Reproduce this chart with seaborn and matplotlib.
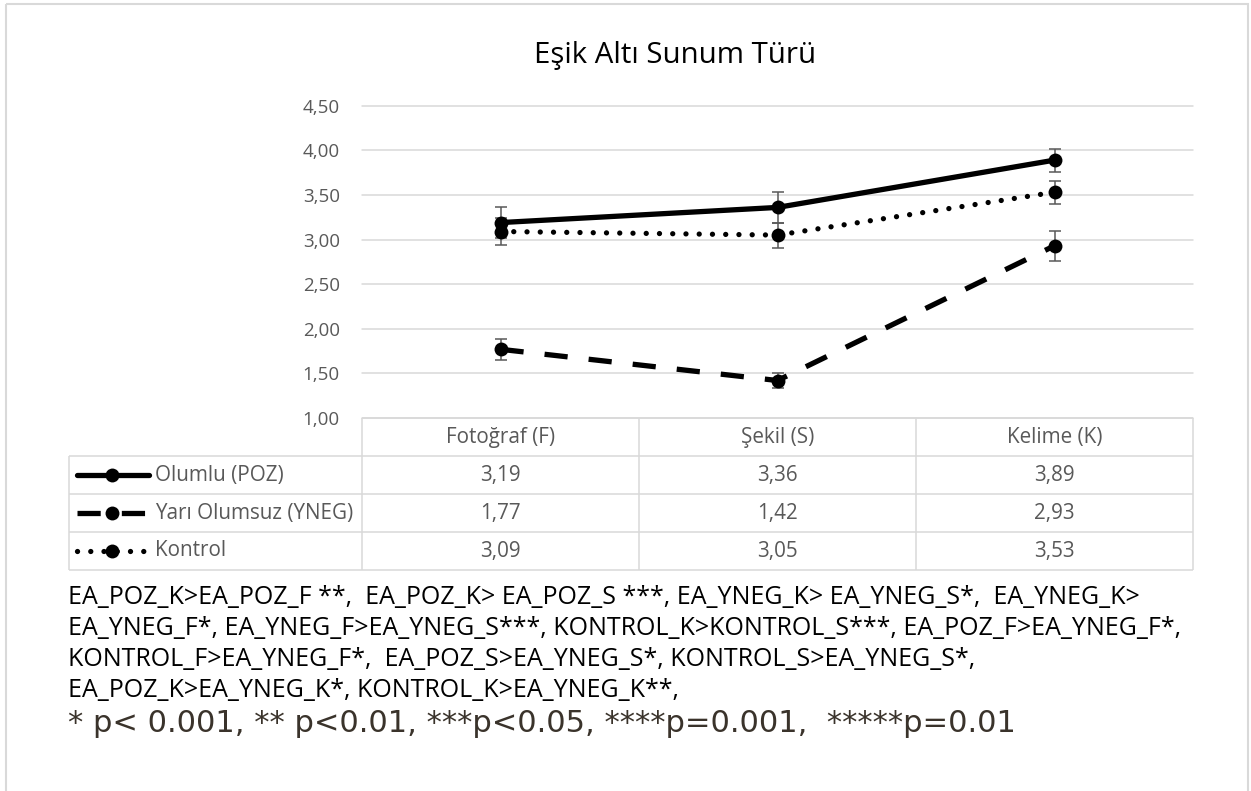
import matplotlib
matplotlib.use("Agg")
import matplotlib.pyplot as plt
from matplotlib.patches import Rectangle
import seaborn as sns
import pandas as pd

# ---- data ----
title = "Eşik Altı Sunum Türü"
categories = ["Fotoğraf (F)", "Şekil (S)", "Kelime (K)"]
series_names = ["Olumlu (POZ)", "Yarı Olumsuz (YNEG)", "Kontrol"]
poz = [3.19, 3.36, 3.89]
yneg = [1.77, 1.42, 2.93]
kontrol = [3.09, 3.05, 3.53]
poz_err = [0.17, 0.17, 0.13]
yneg_err = [0.12, 0.08, 0.17]
kontrol_err = [0.15, 0.14, 0.13]
y_ticks = [1.0, 1.5, 2.0, 2.5, 3.0, 3.5, 4.0, 4.5]
notes = [
    "EA_POZ_K>EA_POZ_F **,  EA_POZ_K> EA_POZ_S ***, EA_YNEG_K> EA_YNEG_S*,  EA_YNEG_K>",
    "EA_YNEG_F*, EA_YNEG_F>EA_YNEG_S***, KONTROL_K>KONTROL_S***, EA_POZ_F>EA_YNEG_F*,",
    "KONTROL_F>EA_YNEG_F*,  EA_POZ_S>EA_YNEG_S*, KONTROL_S>EA_YNEG_S*,",
    "EA_POZ_K>EA_YNEG_K*, KONTROL_K>EA_YNEG_K**,",
]
p_legend = "* p< 0.001, ** p<0.01, ***p<0.05, ****p=0.001,  *****p=0.01"

values = [poz, yneg, kontrol]
errors = [poz_err, yneg_err, kontrol_err]

# ---- styling ----
W, H = 1251, 791
sns.set_theme(style="white")
plt.rcParams["font.family"] = ["Open Sans", "DejaVu Sans"]

GRID = "#d9d9d9"
TEXT_GREY = "#595959"
LW = 3.8
line_styles = {
    "Olumlu (POZ)": dict(linestyle="-", solid_capstyle="round"),
    "Yarı Olumsuz (YNEG)": dict(linestyle=(0, (4.4, 4.0)), dash_capstyle="butt"),
    "Kontrol": dict(linestyle=(0, (0.01, 2.5)), dash_capstyle="round"),
}

fig = plt.figure(figsize=(W / 100, H / 100), dpi=100)
fig.patch.set_facecolor("white")


def px_box(l, t, r, b):
    return [l / W, 1 - b / H, (r - l) / W, (b - t) / H]


ax = fig.add_axes(px_box(362, 105.7, 1193, 418))
ov = fig.add_axes([0, 0, 1, 1], zorder=-1)
ov.set_xlim(0, W)
ov.set_ylim(H, 0)
ov.axis("off")

xpos = list(range(len(categories)))

for name, vals, err in zip(series_names, values, errors):
    df = pd.DataFrame({"x": xpos, "y": vals})
    sns.lineplot(data=df, x="x", y="y", ax=ax, color="black", linewidth=LW,
                 marker="o", markersize=10, markeredgewidth=0,
                 legend=False, errorbar=None, sort=False, zorder=3,
                 **line_styles[name])
    ax.errorbar(xpos, vals, yerr=err, fmt="none", ecolor=TEXT_GREY,
                elinewidth=1.1, capsize=4.2, capthick=1.1, zorder=2)

ax.set_xlim(-0.5, len(categories) - 0.5)
ax.set_ylim(1.0, 4.5)
ax.set_yticks(y_ticks)
ax.set_yticklabels([f"{v:.2f}".replace(".", ",") for v in y_ticks])
ax.set_xticks([])
ax.set_xlabel("")
ax.set_ylabel("")
ax.grid(axis="y", color=GRID, linewidth=1.1)
ax.grid(axis="x", visible=False)
ax.set_axisbelow(True)
ax.patch.set_alpha(0)
for s in ax.spines.values():
    s.set_visible(False)
ax.tick_params(axis="y", length=0, pad=16, labelsize=13.5, labelcolor=TEXT_GREY)
for gl in ax.get_ygridlines():
    gl.set_clip_on(False)


def to_px(x, y):
    dx, dy = ax.transData.transform((x, y))
    return dx, H - dy


# ---- data table below the plot ----
TABLE_FS = 14.9
col_edges = [to_px(i - 0.5, 1.0)[0] for i in range(len(categories) + 1)]
table_top = to_px(0, 1.0)[1]
row_h = 38
label_left = 69
rows_y = [table_top + row_h * (i + 1) for i in range(len(series_names) + 1)]
table_bottom = rows_y[-1]

line_kw = dict(color=GRID, linewidth=1.1, solid_capstyle="butt")
ov.plot([col_edges[0], col_edges[-1]], [table_top, table_top], **line_kw)
for yy in rows_y:
    ov.plot([label_left, col_edges[-1]], [yy, yy], **line_kw)
ov.plot([label_left, label_left], [rows_y[0], table_bottom], **line_kw)
for xx in col_edges:
    ov.plot([xx, xx], [table_top, table_bottom], **line_kw)

for i, cat in enumerate(categories):
    cx = to_px(i, 1.0)[0]
    ov.text(cx, table_top + row_h / 2, cat, ha="center", va="center",
            fontsize=TABLE_FS, color=TEXT_GREY)

for r, (name, vals) in enumerate(zip(series_names, values)):
    cy = rows_y[r] + row_h / 2
    for i, v in enumerate(vals):
        cx = to_px(i, 1.0)[0]
        ov.text(cx, cy, f"{v:.2f}".replace(".", ","), ha="center", va="center",
                fontsize=TABLE_FS, color=TEXT_GREY)
    # legend key
    ov.plot([77, 149], [cy, cy], color="black", linewidth=LW, **line_styles[name])
    ov.plot([112], [cy], marker="o", markersize=10, color="black", markeredgewidth=0)
    ov.text(155, cy, name, ha="left", va="center", fontsize=TABLE_FS, color=TEXT_GREY)

# ---- title ----
ov.text(675, 55, title, ha="center", va="center", fontsize=21.2, color="black")

# ---- significance notes ----
note_texts = [
    ov.text(68, 598 + k * 30.7, line, ha="left", va="center", fontsize=16,
            color="black")
    for k, line in enumerate(notes)
]
p_text = ov.text(68, 724, p_legend, ha="left", va="center", fontsize=18,
                 color="#3a332b", family=["DejaVu Sans"])

# scale the note fonts to the width of the text block
fig.canvas.draw()
renderer = fig.canvas.get_renderer()
w_long = note_texts[1].get_window_extent(renderer).width
scale = (1178 - 68) / w_long
for t in note_texts:
    t.set_fontsize(t.get_fontsize() * scale)
w_p = p_text.get_window_extent(renderer).width
p_text.set_fontsize(p_text.get_fontsize() * (1013 - 68) / w_p)

# ---- outer frame ----
ov.add_patch(Rectangle((6, 3.5), 1241.5, H + 10, fill=False, edgecolor=GRID,
                       linewidth=1.5, clip_on=False))

fig.savefig("out.png", dpi=100, facecolor="white")
